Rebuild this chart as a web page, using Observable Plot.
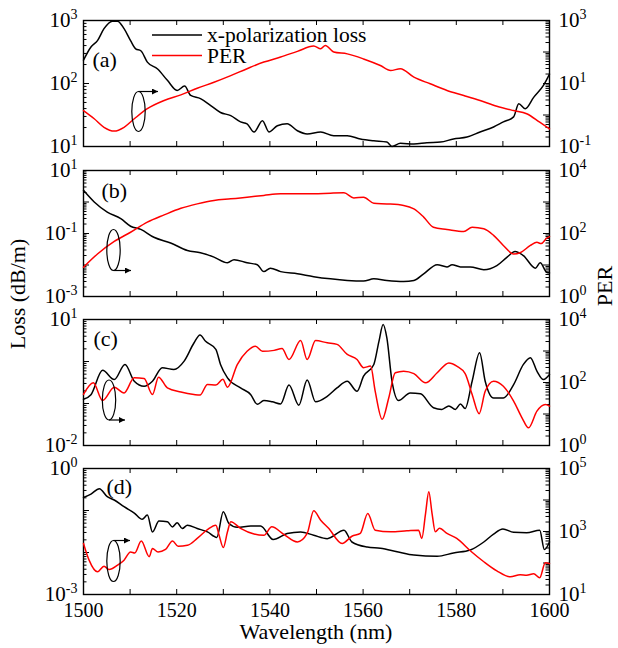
<!DOCTYPE html>
<html><head><meta charset="utf-8">
<script src="https://cdn.jsdelivr.net/npm/d3@7"></script>
<script src="https://cdn.jsdelivr.net/npm/@observablehq/plot@0.6"></script>
<style>
body{margin:0;background:#fff;}
#chart{position:relative;width:618px;height:648px;background:#fff;font-family:"Liberation Serif","Times New Roman",serif;}
#chart svg{position:absolute;left:0;overflow:visible;background:transparent;}
</style></head><body><div id="chart"></div>
<script>
// ---------- DATA: [wavelength (nm), log10(value)] ----------
const lossA = [[1500,2.37],[1501.6,2.58],[1503,2.68],[1504.4,2.87],[1506.2,2.99],[1507.3,2.99],[1508.7,2.87],[1510.1,2.68],[1511.2,2.55],[1512.3,2.52],[1513.7,2.34],[1515.9,2.23],[1518,2.05],[1520.1,1.89],[1521.7,1.96],[1523,1.81],[1525.1,1.76],[1527.3,1.65],[1529.4,1.54],[1531.6,1.49],[1533.7,1.39],[1535.1,1.36],[1536.6,1.23],[1538.4,1.41],[1539.8,1.23],[1541.6,1.33],[1543.7,1.36],[1545.9,1.25],[1548,1.2],[1550.9,1.23],[1553.7,1.17],[1556.6,1.17],[1559.4,1.12],[1562.3,1.09],[1565.1,1.07],[1566.2,1.0],[1568,1.05],[1570.9,1.04],[1573.7,1.06],[1576.6,1.07],[1579.4,1.12],[1582.3,1.15],[1585.1,1.23],[1588,1.31],[1590.1,1.39],[1592.3,1.47],[1593.4,1.68],[1594.8,1.6],[1596.6,1.78],[1598.7,1.97],[1600,2.15]];
const perA = [[1500,0.14],[1502.3,-0.12],[1504.4,-0.39],[1506.6,-0.51],[1508.7,-0.39],[1510.9,-0.12],[1513.7,0.2],[1517.3,0.46],[1520.9,0.64],[1524.4,0.85],[1528,1.04],[1531.6,1.25],[1535.1,1.47],[1538.7,1.68],[1542.3,1.84],[1545.9,2.02],[1549.4,2.19],[1550.9,2.1],[1551.9,2.21],[1553.7,2.0],[1556.6,1.94],[1560.1,1.78],[1563.7,1.57],[1565.9,1.41],[1568,1.47],[1570.9,1.2],[1574.4,0.99],[1578,0.78],[1581.6,0.62],[1585.1,0.46],[1588.7,0.28],[1592.3,0.14],[1595.1,0.04],[1597.9,-0.23],[1600,-0.44]];
const lossB = [[1500,0.37],[1502.3,0.0],[1505.1,-0.32],[1508,-0.53],[1510.1,-0.77],[1512.3,-0.87],[1515.1,-1.12],[1518.7,-1.3],[1522.3,-1.54],[1525.1,-1.61],[1528,-1.75],[1530.9,-1.93],[1532.3,-1.83],[1535.1,-1.93],[1537.3,-1.99],[1538.7,-2.21],[1540.1,-2.1],[1542.3,-2.21],[1545.9,-2.28],[1549.4,-2.37],[1553,-2.44],[1556.6,-2.49],[1560.1,-2.51],[1562.3,-2.44],[1565.1,-2.49],[1568.7,-2.52],[1570.9,-2.49],[1573,-2.28],[1575.9,-1.99],[1578,-2.06],[1579.1,-1.99],[1580.9,-2.06],[1583,-2.06],[1585.9,-2.15],[1588.7,-2.02],[1590.9,-1.75],[1592.6,-1.57],[1594.4,-1.7],[1597,-2.1],[1598,-1.93],[1599.4,-2.23],[1600,-2.25]];
const perB = [[1500,0.93],[1503,1.35],[1506.6,1.75],[1510.1,2.04],[1513.7,2.36],[1517.3,2.59],[1520.9,2.8],[1524.4,2.94],[1528,3.05],[1531.6,3.1],[1535.1,3.15],[1538.7,3.21],[1542.3,3.26],[1545.9,3.26],[1549.4,3.26],[1553,3.28],[1555.9,3.29],[1558,3.13],[1560.1,3.15],[1562.3,2.96],[1565.1,2.94],[1568.7,2.89],[1570.9,2.78],[1573,2.52],[1575.1,2.2],[1578,2.13],[1581.6,2.06],[1583.4,2.2],[1585.9,2.15],[1588,1.94],[1590.1,1.62],[1592.3,1.35],[1593.7,1.39],[1595.9,1.62],[1597.3,1.72],[1598.2,1.68],[1599.4,1.85],[1600,1.9]];
const lossC = [[1500,-0.9],[1501.6,-0.79],[1504.1,-0.21],[1506.6,-0.43],[1508.9,-0.07],[1510.9,-0.47],[1513,-0.59],[1514.8,-0.47],[1516.9,-0.15],[1519.4,-0.19],[1521.6,0.01],[1523.7,0.44],[1525,0.63],[1526.2,0.48],[1528.4,0.29],[1529.4,-0.07],[1530.9,-0.39],[1533.7,-0.63],[1535.9,-0.79],[1537.3,-1.02],[1538.7,-0.93],[1540.5,-0.96],[1542.3,-1.01],[1544.1,-0.56],[1546.2,-1.04],[1548,-0.44],[1549.8,-0.96],[1552.3,-0.83],[1554.4,-0.63],[1556.6,-0.47],[1558.7,-0.71],[1560.1,-0.35],[1562.3,-0.07],[1563.4,0.48],[1564.3,0.88],[1565.1,0.56],[1566.2,-0.47],[1567.6,-0.93],[1570.1,-0.75],[1572.3,-0.77],[1575.1,-1.1],[1576.9,-1.14],[1578.4,-1.06],[1579.8,-1.14],[1580.9,-1.01],[1581.9,-1.12],[1583.4,-0.47],[1585,0.21],[1586.2,-0.47],[1588,-0.87],[1590.1,-0.87],[1592.3,-0.55],[1594.4,-0.07],[1595.9,0.09],[1597.3,-0.23],[1598.7,-0.43],[1600,-0.31]];
const perC = [[1500,1.62],[1502.1,1.99],[1504.1,1.43],[1506.6,1.85],[1508.7,1.67],[1510.9,2.15],[1513,2.13],[1514.8,1.62],[1516.1,2.17],[1518,1.83],[1520.9,1.7],[1523.7,1.62],[1525,1.6],[1526.6,1.94],[1528.4,1.92],[1529.9,2.1],[1530.9,1.85],[1533,2.57],[1535.1,2.99],[1536.9,3.15],[1538.4,2.99],[1540.9,3.02],[1542.6,3.08],[1544.1,2.73],[1546.6,3.33],[1548,2.73],[1549.8,3.33],[1552.3,3.26],[1554.4,3.21],[1556.6,2.89],[1558.7,2.73],[1560.1,2.47],[1561.6,2.52],[1562.6,1.72],[1564.1,0.83],[1565.5,1.51],[1566.9,2.31],[1568.7,2.36],[1570.9,2.28],[1573.4,1.99],[1575.9,2.31],[1578.4,2.62],[1580.1,2.52],[1581.9,2.28],[1583.4,1.62],[1584.9,1.01],[1586.2,1.72],[1588,2.04],[1590.1,1.88],[1592.3,1.41],[1594.1,0.88],[1595.5,0.56],[1597.3,1.09],[1599.1,1.3],[1600,1.25]];
const lossD = [[1500,-0.69],[1501.6,-0.61],[1503.4,-0.48],[1505.1,-0.67],[1506.6,-0.75],[1508.7,-0.91],[1510.9,-1.06],[1512.6,-1.21],[1513.7,-1.11],[1514.8,-1.51],[1516.2,-1.25],[1518,-1.27],[1519.1,-1.39],[1520.1,-1.29],[1521.2,-1.43],[1522.3,-1.35],[1524.4,-1.43],[1526.6,-1.51],[1528.6,-1.64],[1530,-1.03],[1531.2,-1.31],[1533,-1.4],[1535.9,-1.37],[1538,-1.37],[1540.7,-1.69],[1543.7,-1.55],[1546.6,-1.51],[1549.4,-1.59],[1552.3,-1.67],[1555.9,-1.47],[1557.6,-1.75],[1560.9,-1.87],[1563.7,-1.9],[1567.3,-1.98],[1570.9,-2.06],[1575.9,-2.09],[1579.4,-2.01],[1583,-1.94],[1585.9,-1.75],[1588,-1.56],[1590,-1.44],[1592.3,-1.52],[1595.1,-1.53],[1597.9,-1.47],[1598.9,-1.93],[1600,-1.75]];
const perD = [[1500,2.62],[1501.2,2.09],[1503,1.72],[1504.4,1.9],[1505.5,1.79],[1507.3,1.93],[1508.7,2.09],[1510.1,2.35],[1511,2.32],[1512.4,2.7],[1514.1,2.2],[1514.8,2.46],[1516,2.35],[1517.6,2.43],[1519.1,2.7],[1520.3,2.53],[1522.3,2.56],[1524.4,2.78],[1526.6,3.06],[1528.4,3.2],[1529.1,2.88],[1530,2.49],[1530.9,2.99],[1531.6,3.31],[1533.7,3.1],[1536.6,2.92],[1538.7,2.88],[1540.4,3.15],[1542.9,2.92],[1545.9,2.67],[1548,2.94],[1549.4,3.66],[1550.9,3.36],[1552.6,3.1],[1555.5,2.62],[1557.6,2.85],[1559.4,2.94],[1561,3.57],[1562.6,3.04],[1565.9,2.99],[1569.4,3.02],[1571.9,3.04],[1572.6,2.78],[1573.4,3.57],[1574.1,4.26],[1574.8,3.57],[1575.5,2.99],[1576.4,3.1],[1578,2.94],[1580.1,2.78],[1583,2.39],[1585.9,2.04],[1588.7,1.75],[1591.6,1.56],[1593.7,1.63],[1595.1,1.61],[1596.6,1.66],[1597.9,1.53],[1599.1,2.01],[1600,1.98]];

// axis domains and labelled decades (exponents)
const wavelengthDomain = [1500, 1600];
const wavelengthLabels = [1500, 1520, 1540, 1560, 1580, 1600];
const lossDomainA = [1e1, 1e3], perDomainA = [1e-1, 1e3];
const lossDomainB = [1e-3, 1e1], perDomainB = [1e0, 1e4];
const lossDomainC = [1e-2, 1e1], perDomainC = [1e0, 1e4];
const lossDomainD = [1e-3, 1e0], perDomainD = [1e1, 1e5];
const lossLabelExpA = [1, 2, 3], perLabelExpA = [-1, 1, 3];
const lossLabelExpB = [-3, -1, 1], perLabelExpB = [0, 2, 4];
const lossLabelExpC = [-2, 1], perLabelExpC = [0, 2, 4];
const lossLabelExpD = [-3, 0], perLabelExpD = [1, 3, 5];
const panelLetters = ["a", "b", "c", "d"];
const seriesNames = ["x-polarization loss", "PER"];

// ---------- LAYOUT ----------
const W = 618, ML = 83, MR = 69, FH = 126, PAD = 20;
const PW = W - ML - MR;
const frameTops = [20, 170, 319, 468];
const letterOffset = [[9, 39], [18, 20], [10, 19], [23, 18.5]];
const FONT = '"Liberation Serif","DejaVu Serif","Times New Roman",serif';

const panels = [
  {loss: lossA, per: perA, lossDomain: lossDomainA, perDomain: perDomainA, lossLabels: lossLabelExpA, perLabels: perLabelExpA},
  {loss: lossB, per: perB, lossDomain: lossDomainB, perDomain: perDomainB, lossLabels: lossLabelExpB, perLabels: perLabelExpB},
  {loss: lossC, per: perC, lossDomain: lossDomainC, perDomain: perDomainC, lossLabels: lossLabelExpC, perLabels: perLabelExpC},
  {loss: lossD, per: perD, lossDomain: lossDomainD, perDomain: perDomainD, lossLabels: lossLabelExpD, perLabels: perLabelExpD}
];

function logTicks([lo, hi]) {
  const e0 = Math.round(Math.log10(lo)), e1 = Math.round(Math.log10(hi));
  const major = [], minor = [];
  for (let e = e0; e <= e1; e++) {
    major.push(Math.pow(10, e));
    if (e < e1) for (let k = 2; k <= 9; k++) minor.push(k * Math.pow(10, e));
  }
  return {major, minor};
}
const expFmt = d => "10^" + Math.round(Math.log10(d));

function superscripts(svg) {
  d3.select(svg).selectAll("text").each(function () {
    const m = /^10\^(-?\d+)$/.exec(this.textContent);
    if (m) {
      const s = d3.select(this);
      s.text("10");
      s.append("tspan").attr("dy", "-8").attr("font-size", "14px").text(m[1]);
    }
  });
}

const chart = document.getElementById("chart");
const xt = d3.range(1500, 1601, 10);

panels.forEach((p, i) => {
  const last = i === panels.length - 1;
  const MB = last ? 40 : PAD;
  const H = PAD + FH + MB;
  const lt = logTicks(p.lossDomain), pt = logTicks(p.perDomain);
  const common = {
    width: W, height: H, marginLeft: ML, marginRight: MR, marginTop: PAD, marginBottom: MB,
    x: {domain: wavelengthDomain, axis: last ? undefined : null},
    style: {fontFamily: FONT, fontSize: "21px", background: "transparent", overflow: "visible", color: "#000"}
  };
  const lossMarks = [
    Plot.ruleX(xt, {insetBottom: FH - 5, stroke: "#000"}),
    Plot.ruleX(xt, {insetTop: FH - 5, stroke: "#000"}),
    Plot.ruleY(lt.major, {insetRight: PW - 6, stroke: "#000"}),
    Plot.ruleY(lt.minor, {insetRight: PW - 3.5, stroke: "#000"}),
    Plot.axisY({anchor: "left", ticks: p.lossLabels.map(e => Math.pow(10, e)), tickFormat: expFmt, tickSize: 0, tickPadding: 6, label: null}),
    Plot.line(p.loss, {x: d => d[0], y: d => Math.pow(10, d[1]), stroke: "#000", strokeWidth: 1.5, curve: "monotone-x"}),
    Plot.text([panelLetters[i]], {text: d => `(${d})`, frameAnchor: "top-left", lineAnchor: "middle", dx: letterOffset[i][0], dy: letterOffset[i][1], fontSize: 22, textAnchor: "start", fill: "#000"}),
    Plot.frame({stroke: "#000", strokeWidth: 1.4})
  ];
  if (last) {
    lossMarks.push(Plot.axisX({ticks: wavelengthLabels, tickSize: 0, tickPadding: 8, tickFormat: d => String(d), label: null, fontSize: 20}));
  }
  const lossSvg = Plot.plot({...common, y: {type: "log", domain: p.lossDomain}, marks: lossMarks});
  const perSvg = Plot.plot({
    ...common, x: {domain: wavelengthDomain, axis: null},
    y: {type: "log", domain: p.perDomain},
    marks: [
      Plot.ruleY(pt.major, {insetLeft: PW - 6, stroke: "#000"}),
      Plot.ruleY(pt.minor, {insetLeft: PW - 3.5, stroke: "#000"}),
      Plot.axisY({anchor: "right", ticks: p.perLabels.map(e => Math.pow(10, e)), tickFormat: expFmt, tickSize: 0, tickPadding: 9, label: null}),
      Plot.line(p.per, {x: d => d[0], y: d => Math.pow(10, d[1]), stroke: "#ff0000", strokeWidth: 1.5, curve: "monotone-x"})
    ]
  });
  [lossSvg, perSvg].forEach(s => {
    superscripts(s);
    s.style.top = (frameTops[i] - PAD) + "px";
    chart.appendChild(s);
  });
});

// ---------- overlay: titles, legend, annotations ----------
const ov = d3.select(chart).append("svg").attr("width", W).attr("height", 648).style("top", "0px")
  .attr("font-family", FONT).style("pointer-events", "none");
ov.append("text").attr("transform", "translate(25,294) rotate(-90)").attr("text-anchor", "middle")
  .attr("font-size", 22).text("Loss (dB/m)");
ov.append("text").attr("transform", "translate(612,286) rotate(-90)").attr("text-anchor", "middle")
  .attr("font-size", 22).text("PER");
ov.append("text").attr("x", (ML + W - MR) / 2).attr("y", 639).attr("text-anchor", "middle")
  .attr("font-size", 22).text("Wavelength (nm)");
// legend
const legendColors = ["#000", "#ff0000"];
seriesNames.forEach((name, k) => {
  const y = 35 + k * 20.5;
  ov.append("line").attr("x1", 152).attr("x2", 202).attr("y1", y).attr("y2", y)
    .attr("stroke", legendColors[k]).attr("stroke-width", 1.5);
  ov.append("text").attr("x", 207).attr("y", y + 7).attr("font-size", 21.5).text(name);
});
// ellipse + arrow annotations (arrow from top or bottom of ellipse)
const marker = ov.append("defs").append("marker").attr("id", "ah").attr("viewBox", "0 0 10 10")
  .attr("refX", 10).attr("refY", 5).attr("markerWidth", 8).attr("markerHeight", 6)
  .attr("markerUnits", "userSpaceOnUse").attr("orient", "auto");
marker.append("path").attr("d", "M0,0 L10,5 L0,10 z").attr("fill", "#000");
const ellipses = [
  {cx: 138.5, cy: 111.5, ry: 20, top: true, x2: 158},
  {cx: 113.5, cy: 250, ry: 20.5, top: false, x2: 131},
  {cx: 109, cy: 400, ry: 20, top: false, x2: 125},
  {cx: 113.5, cy: 561, ry: 20.5, top: true, x2: 130}
];
ellipses.forEach(e => {
  ov.append("ellipse").attr("cx", e.cx).attr("cy", e.cy).attr("rx", 6.7).attr("ry", e.ry)
    .attr("fill", "none").attr("stroke", "#000").attr("stroke-width", 1.2);
  const y = e.top ? e.cy - e.ry : e.cy + e.ry;
  ov.append("line").attr("x1", e.cx).attr("x2", e.x2).attr("y1", y).attr("y2", y)
    .attr("stroke", "#000").attr("stroke-width", 1.2).attr("marker-end", "url(#ah)");
});
</script></body></html>
